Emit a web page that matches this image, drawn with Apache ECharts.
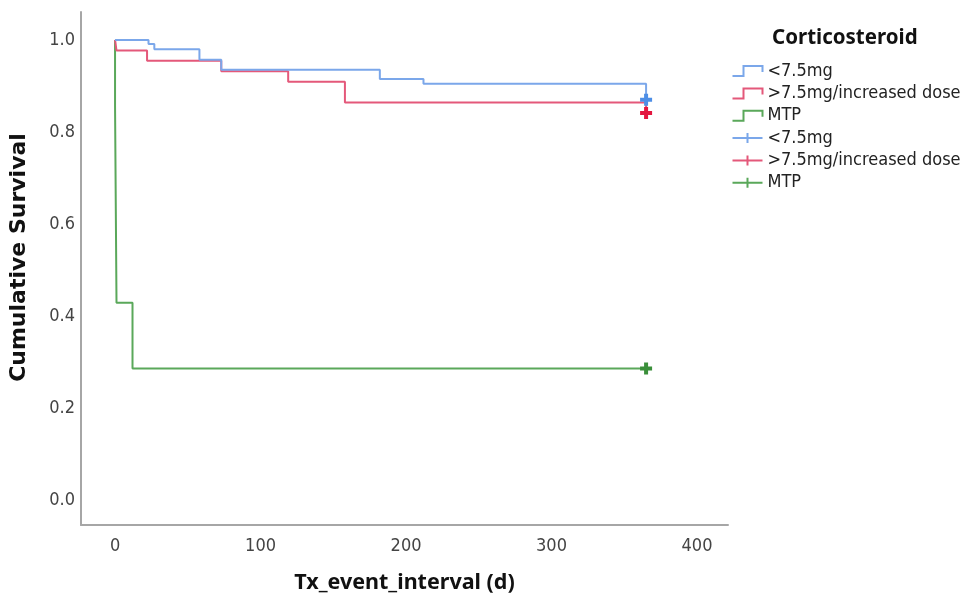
<!DOCTYPE html>
<html>
<head>
<meta charset="utf-8">
<script src="https://cdn.jsdelivr.net/npm/echarts@6/dist/echarts.min.js"></script>
<style>
html,body{margin:0;padding:0;background:#fff;}
#chart{width:965px;height:599px;}
</style>
</head>
<body>
<div id="chart"></div>
<script>
// ---- data ----
const groupNames = ['<7.5mg', '>7.5mg/increased dose', 'MTP'];
// Kaplan-Meier step points: [time (d), cumulative survival]
const lowDose = [[0, 1], [23, 0.991], [27, 0.980], [58, 0.957], [73, 0.935], [182, 0.915], [212, 0.905], [365, 0.870]];
const highDose = [[0, 1], [1, 0.977], [22, 0.955], [73, 0.932], [119, 0.909], [158, 0.864], [365, 0.841]];
const mtp = [[0, 1], [0, 0.857], [1, 0.429], [12, 0.286], [365, 0.286]];
// censored observations
const lowDoseCensored = [[365, 0.870]];
const highDoseCensored = [[365, 0.841]];
const mtpCensored = [[365, 0.286]];
const xTicks = [0, 100, 200, 300, 400];
const yTicks = [0, 0.2, 0.4, 0.6, 0.8, 1.0];

const lineColors = ['#7ba7ea', '#e4587a', '#5aa85a'];
const markColors = ['#4d8ee6', '#e3163f', '#3a8f3a'];
const plusPath = 'path://M4,0 L8,0 L8,4 L12,4 L12,8 L8,8 L8,12 L4,12 L4,8 L0,8 L0,4 L4,4 Z';
const stepIcon = 'path://M0,10 L11,10 L11,0 L30,0 L30,6';
const plusIcon = 'path://M0,5 L30,5 M15,0 L15,10';

const font = 'Noto Sans';
const condensed = 'DejaVu Sans Condensed';
const steps = [lowDose, highDose, mtp];
const cens = [lowDoseCensored, highDoseCensored, mtpCensored];

const series = [];
steps.forEach((d, i) => {
  series.push({
    name: groupNames[i], type: 'line', step: 'end', data: d,
    showSymbol: false, symbol: 'none', z: 2 + (2 - i),
    lineStyle: {color: lineColors[i], width: 2},
    itemStyle: {color: lineColors[i]},
    animation: false
  });
});
cens.forEach((d, i) => {
  series.push({
    name: groupNames[i], type: 'scatter', data: d,
    symbol: plusPath, symbolSize: 12, z: 6,
    itemStyle: {color: markColors[i], opacity: 1},
    animation: false
  });
});

const legendText = {fontFamily: condensed, fontSize: 18, lineHeight: 18, color: '#222'};
const chart = echarts.init(document.getElementById('chart'), null, {renderer: 'canvas'});
chart.setOption({
  backgroundColor: '#fff',
  animation: false,
  title: {
    text: 'Corticosteroid', left: 772, top: 28, padding: 0,
    textStyle: {fontFamily: font, fontSize: 20.5, fontWeight: 'bold', color: '#111'}
  },
  legend: [
    {
      orient: 'vertical', left: 730, top: 62, padding: 0, itemWidth: 30, itemHeight: 10, itemGap: 4.4,
      selectedMode: false,
      textStyle: legendText,
      data: groupNames.map((n, i) => ({
        name: n, icon: stepIcon,
        itemStyle: {color: 'none', borderColor: lineColors[i], borderWidth: 2}
      }))
    },
    {
      orient: 'vertical', left: 730, top: 129, padding: 0, itemWidth: 30, itemHeight: 10, itemGap: 4.4,
      selectedMode: false,
      textStyle: legendText,
      data: groupNames.map((n, i) => ({
        name: n, icon: plusIcon,
        itemStyle: {color: 'none', borderColor: lineColors[i], borderWidth: 2}
      }))
    }
  ],
  grid: {left: 81, right: 237, top: 12, bottom: 73, containLabel: false},
  xAxis: {
    type: 'value', min: -23.4, max: 421.3,
    name: 'Tx_event_interval (d)', nameLocation: 'middle', nameGap: 47,
    nameTextStyle: {fontFamily: font, fontSize: 21.5, fontWeight: 'bold', color: '#111'},
    axisLine: {show: true, onZero: false, lineStyle: {color: '#a6a6a6', width: 2}},
    axisTick: {show: false},
    splitLine: {show: false},
    axisLabel: {customValues: xTicks, margin: 12, fontFamily: condensed, fontSize: 18, color: '#444',
      formatter: v => String(Math.round(v))}
  },
  yAxis: {
    type: 'value', min: -0.0542, max: 1.0607,
    name: 'Cumulative Survival', nameLocation: 'middle', nameGap: 51, nameRotate: 90,
    nameTextStyle: {fontFamily: 'DejaVu Sans', fontSize: 22, fontWeight: 'bold', color: '#111', padding: [0, 0, 0, 22]},
    axisLine: {show: true, onZero: false, lineStyle: {color: '#a6a6a6', width: 2}},
    axisTick: {show: false},
    splitLine: {show: false},
    axisLabel: {customValues: yTicks, margin: 6, fontFamily: condensed, fontSize: 18, color: '#444',
      formatter: v => v.toFixed(1)}
  },
  series: series
});
</script>
</body>
</html>
